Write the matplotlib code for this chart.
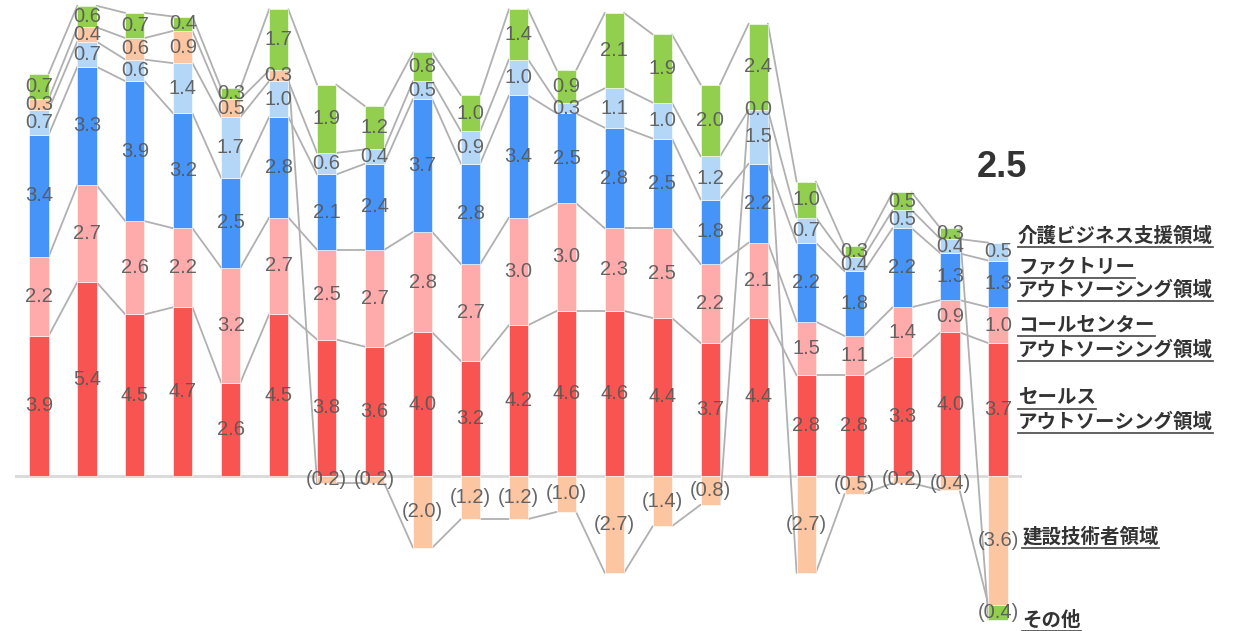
import matplotlib
matplotlib.use("Agg")
import matplotlib.pyplot as plt
from matplotlib.lines import Line2D
import numpy as np

# Segment values per period (bottom-to-top stacking order)
sales = [3.9, 5.4, 4.5, 4.7, 2.6, 4.5, 3.8, 3.6, 4.0, 3.2, 4.2, 4.6, 4.6, 4.4, 3.7, 4.4, 2.8, 2.8, 3.3, 4.0, 3.7]
callcenter = [2.2, 2.7, 2.6, 2.2, 3.2, 2.7, 2.5, 2.7, 2.8, 2.7, 3.0, 3.0, 2.3, 2.5, 2.2, 2.1, 1.5, 1.1, 1.4, 0.9, 1.0]
factory = [3.4, 3.3, 3.9, 3.2, 2.5, 2.8, 2.1, 2.4, 3.7, 2.8, 3.4, 2.5, 2.8, 2.5, 1.8, 2.2, 2.2, 1.8, 2.2, 1.3, 1.3]
kaigo = [0.7, 0.7, 0.6, 1.4, 1.7, 1.0, 0.6, 0.4, 0.5, 0.9, 1.0, 0.3, 1.1, 1.0, 1.2, 1.5, 0.7, 0.4, 0.5, 0.4, 0.5]
construction = [0.3, 0.4, 0.6, 0.9, 0.5, 0.3, -0.2, -0.2, -2.0, -1.2, -1.2, -1.0, -2.7, -1.4, -0.8, 0.0, -2.7, -0.5, -0.2, -0.4, -3.6]
other = [0.7, 0.6, 0.7, 0.4, 0.3, 1.7, 1.9, 1.2, 0.8, 1.0, 1.4, 0.9, 2.1, 1.9, 2.0, 2.4, 1.0, 0.3, 0.5, 0.3, -0.4]

series = [sales, callcenter, factory, kaigo, construction, other]
colors = ["#F85552", "#FFABAB", "#4694F7", "#B4D7F7", "#FDC6A2", "#92CF4F"]
legend_lines = [
    ["セールス", "アウトソーシング領域"],
    ["コールセンター", "アウトソーシング領域"],
    ["ファクトリー", "アウトソーシング領域"],
    ["介護ビジネス支援領域"],
    ["建設技術者領域"],
    ["その他"],
]

W, H = 1234, 631
fig = plt.figure(figsize=(W / 100, H / 100), dpi=100)
ax = fig.add_axes([15 / W, 0, (1022 - 15) / W, 1])
ax.set_xlim(-0.5, 20.5)
ax.set_ylim(-4.32, 13.26)
ax.axis("off")

n = len(sales)
x = np.arange(n)
bw = 0.4

pos_base = np.zeros(n)
neg_base = np.zeros(n)
edges = []  # outer edge of each series segment, used for connectors
for vals, col in zip(series, colors):
    v = np.array(vals, dtype=float)
    bottom = np.where(v >= 0, pos_base, neg_base)
    ax.bar(x, v, bw, bottom=bottom, color=col, edgecolor="white", linewidth=0.4, zorder=3)
    for xi, b, vi in zip(x, bottom, v):
        label = f"{vi:.1f}" if vi >= 0 else f"({abs(vi):.1f})"
        ax.text(xi, b + vi / 2, label, ha="center", va="center", fontsize=14.5,
                family="Liberation Sans", color="#555555", alpha=0.9, zorder=5)
    edges.append(bottom + v)
    pos_base = np.where(v >= 0, pos_base + v, pos_base)
    neg_base = np.where(v < 0, neg_base + v, neg_base)

# Connectors between neighbouring bars for each series
for e in edges:
    for i in range(n - 1):
        ax.plot([x[i] + bw / 2, x[i + 1] - bw / 2], [e[i], e[i + 1]],
                color="#B0B0B0", linewidth=1.3, zorder=2, solid_capstyle="round")

# Zero baseline
ax.axhline(0, color="#D9D9D9", linewidth=2, zorder=1)

# Total of the latest period
total = sum(s[-1] for s in series)
ax.text(x[-1] + 0.08, 8.58, f"{total:.1f}", ha="center", va="center", fontsize=26,
        fontweight="bold", family="Liberation Sans", color="#333333", zorder=6)

# Series names at the right, underlined line by line
label_y_px = [[398, 422], [325, 350], [267, 290], [236], [537], [620]]
label_x_px = [1018, 1018, 1018, 1018, 1022, 1022]
jp_font = ["Noto Sans CJK JP", "DejaVu Sans"]
texts = []
for lines, ys, xpx in zip(legend_lines, label_y_px, label_x_px):
    for line, ypx in zip(lines, ys):
        t = fig.text(xpx / W, 1 - ypx / H, line, ha="left", va="center",
                     fontsize=14, fontweight="bold", family=jp_font, color="#333333")
        texts.append((t, ypx))

fig.canvas.draw()
renderer = fig.canvas.get_renderer()
for t, ypx in texts:
    bb = t.get_window_extent(renderer)
    yline = 1 - (ypx + 11) / H
    fig.add_artist(Line2D([bb.x0 / W, bb.x1 / W], [yline, yline],
                          color="#555555", linewidth=1.3, transform=fig.transFigure))

fig.savefig("out.png", dpi=100)
